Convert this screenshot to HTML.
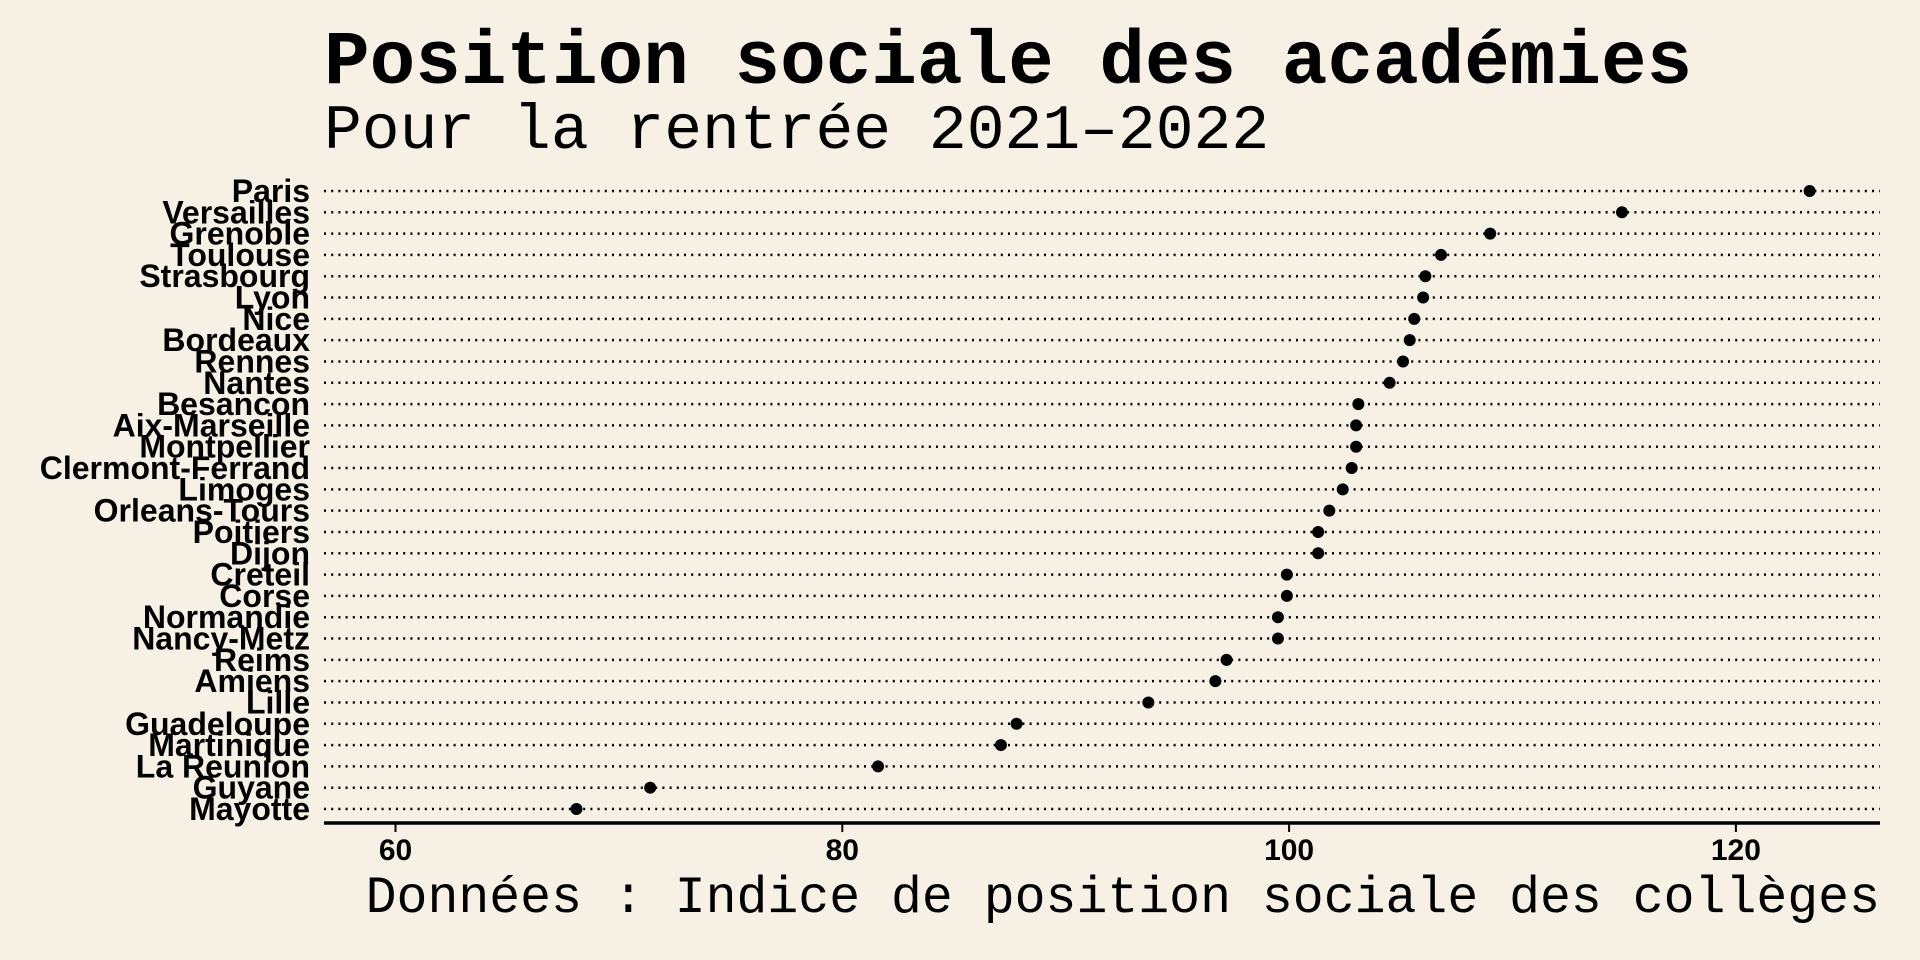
<!DOCTYPE html>
<html><head><meta charset="utf-8"><style>
html,body{margin:0;padding:0;background:#f7f1e5;}
svg{display:block;}
</style></head><body>
<svg id="chart" width="1920" height="960" viewBox="0 0 1920 960" xmlns="http://www.w3.org/2000/svg">
<rect width="1920" height="960" fill="#f7f1e5"/>
<text x="324" y="83" font-family="Liberation Mono, monospace" font-weight="bold" font-size="76" fill="#000">Position sociale des académies</text>
<text x="324" y="148" font-family="Liberation Mono, monospace" font-size="63" fill="#000">Pour la rentrée 2021–2022</text>
<text x="1880" y="912" text-anchor="end" font-family="Liberation Mono, monospace" font-size="51.5" fill="#000">Données : Indice de position sociale des collèges</text>
<g id="grid"></g>
<g id="ylabels"></g>
<g id="dots"></g>
<g id="xaxis"></g>
</svg>
<script>
const categories = ["Paris","Versailles","Grenoble","Toulouse","Strasbourg","Lyon","Nice","Bordeaux","Rennes","Nantes","Besancon","Aix-Marseille","Montpellier","Clermont-Ferrand","Limoges","Orleans-Tours","Poitiers","Dijon","Creteil","Corse","Normandie","Nancy-Metz","Reims","Amiens","Lille","Guadeloupe","Martinique","La Reunion","Guyane","Mayotte"];
const values = [123.3,114.9,109.0,106.8,106.1,106.0,105.6,105.4,105.1,104.5,103.1,103.0,103.0,102.8,102.4,101.8,101.3,101.3,99.9,99.9,99.5,99.5,97.2,96.7,93.7,87.8,87.1,81.6,71.4,68.1];
const xTicks = [60,80,100,120];

const NS = "http://www.w3.org/2000/svg";
const plotLeft = 324, plotRight = 1880;
function xScale(v){ return 395.5 + (v - 60) * 22.34; }
function yScale(i){ return 191 + i * (809 - 191) / (categories.length - 1); }
function mk(tag, attrs, parent){
  const el = document.createElementNS(NS, tag);
  for (const k in attrs) el.setAttribute(k, attrs[k]);
  parent.appendChild(el);
  return el;
}
const grid = document.getElementById('grid');
const ylabels = document.getElementById('ylabels');
const dots = document.getElementById('dots');
const xaxis = document.getElementById('xaxis');

categories.forEach((c, i) => {
  const y = yScale(i);
  const ln = mk('line', {x1: plotLeft, x2: plotRight, y1: y, y2: y, stroke: '#000', 'stroke-width': 2.5, 'stroke-dasharray': '2 5.2'}, grid);
  
  
  const t = mk('text', {x: 310, y: y + 11, 'text-anchor': 'end', 'font-family': 'Liberation Sans, sans-serif', 'font-weight': 'bold', 'font-size': 32, fill: '#000'}, ylabels);
  t.textContent = c;
  
  
  const d = mk('circle', {cx: xScale(values[i]), cy: y, r: 6, fill: '#000'}, dots);
  
  
});

const axLine = mk('line', {x1: plotLeft, x2: plotRight, y1: 823, y2: 823, stroke: '#000', 'stroke-width': 3.5}, xaxis);


xTicks.forEach(v => {
  const x = xScale(v);
  const tk = mk('line', {x1: x, x2: x, y1: 823, y2: 832, stroke: '#000', 'stroke-width': 2}, xaxis);
  
  
  const tl = mk('text', {x: x, y: 860, 'text-anchor': 'middle', 'font-family': 'Liberation Sans, sans-serif', 'font-weight': 'bold', 'font-size': 30, fill: '#000'}, xaxis);
  tl.textContent = v;
  
  
});
</script>
</body></html>
